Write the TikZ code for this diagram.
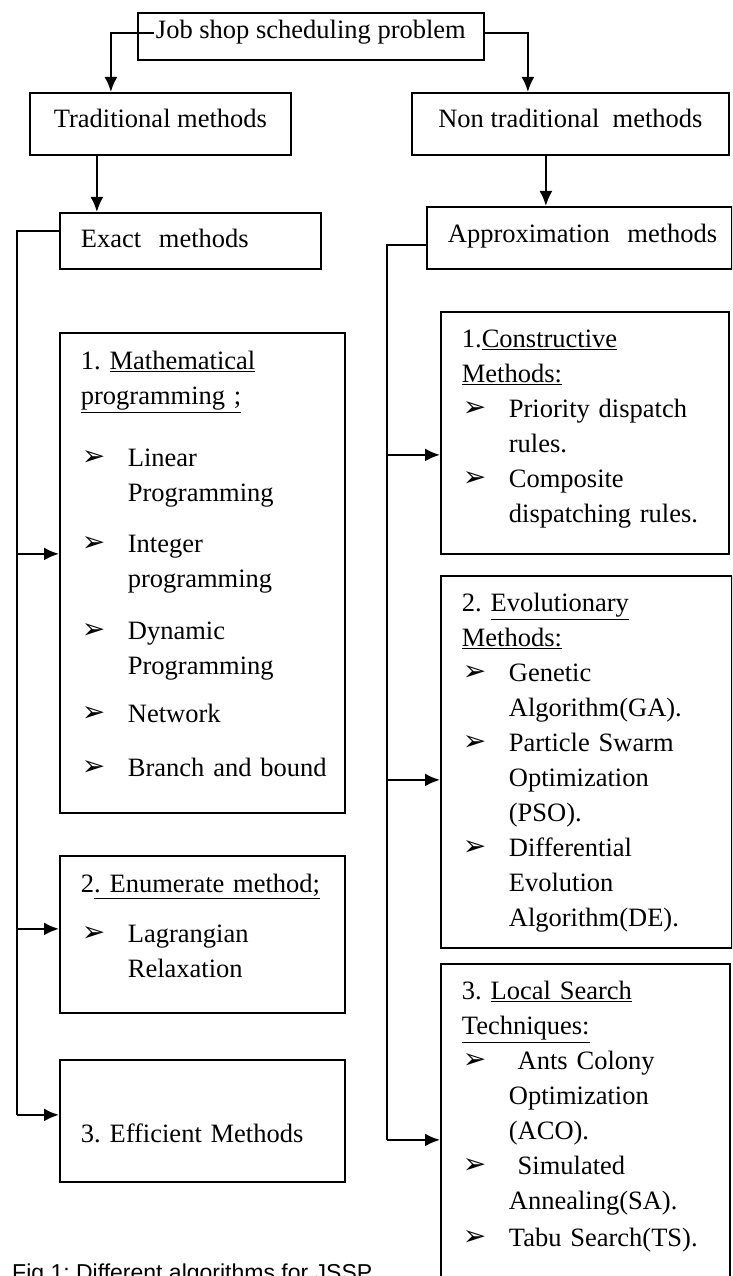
\documentclass[tikz,border=0pt]{standalone}
\usepackage{fontspec}
\setmainfont{Liberation Serif}
\newfontfamily\capfont{Liberation Sans}
\newfontfamily\dingfont{DejaVu Sans}
\usepackage{tikz}
\usetikzlibrary{shapes,arrows.meta}
\tikzstyle{headbox} = [rectangle, draw, line width=1.8pt, align=center, inner sep=0pt, anchor=north west]
\tikzstyle{block} = [rectangle, draw, line width=1.8pt, align=left, inner xsep=21pt, inner ysep=0pt, anchor=north west]
\tikzstyle{line} = [draw, line width=2.2pt, -{Latex[length=15pt,width=13pt]}]
\tikzstyle{bus} = [draw, line width=2.2pt]
\newcommand{\blt}{\makebox[47pt][l]{\hspace{1pt}\raisebox{1.5pt}{\dingfont\fontsize{28}{28}\selectfont ➢}}}
\newcommand{\ind}{\hspace*{47pt}}
\frenchspacing
\begin{document}
\begin{tikzpicture}[x=1pt, y=-1pt, every node/.style={font=\fontsize{26.5}{35}\selectfont}]
			\clip (0,0) rectangle (732,1276);
			\node [headbox, minimum width=346pt, text height=26pt, text depth=21pt] (job) at (137,12) {Job shop scheduling problem};
			\node [headbox, minimum width=261pt, text height=35pt, text depth=27pt] (trad) at (29,92) {Traditional methods};
			\node [headbox, minimum width=317pt, text height=35pt, text depth=27pt] (ntrad) at (411,92) {Non traditional~ methods};
			\node [block, text width=219pt, text height=35pt, text depth=21pt] (exact) at (59,212) {Exact~ methods};
			\node [block, text width=263pt, text height=36pt, text depth=26pt] (approx) at (426,206) {\mbox{Approximation~ methods}};
			% exact methods
			\node [block, text width=243pt, text height=37pt, text depth=443pt] (math) at (59,332) {1. \underline{Mathematical}\\
				\underline{programming ;}\\[27pt]
				\blt Linear\\ \ind Programming\\[16pt]
				\blt Integer\\ \ind programming\\[17pt]
				\blt Dynamic\\ \ind Programming\\[13pt]
				\blt Network\\[19pt]
				\blt \mbox{Branch and bound}};
			\node [block, text width=243pt, text height=37pt, text depth=120pt] (enum) at (59,855) {2\underline{. Enumerate method;}\\[15pt]
				\blt Lagrangian\\ \ind Relaxation};
			\node [block, text width=243pt, text height=83pt, text depth=39pt] (eff) at (59,1059) {3. Efficient Methods};
			% approximation methods
			\node [block, text width=246pt, text height=36pt, text depth=206pt] (cons) at (440,311) {1.\underline{Constructive}\\
				\underline{Methods:}\\
				\blt Priority dispatch\\ \ind rules.\\
				\blt Composite\\ \ind \mbox{dispatching rules.}};
			\node [block, text width=249pt, text height=36pt, text depth=336pt] (evol) at (440,575) {2. \underline{Evolutionary}\\
				\underline{Methods:}\\
				\blt Genetic\\ \ind Algorithm(GA).\\
				\blt Particle Swarm\\ \ind Optimization\\ \ind (PSO).\\
				\blt Differential\\ \ind Evolution\\ \ind Algorithm(DE).};
			\node [block, text width=247pt, text height=36pt, text depth=294pt] (local) at (440,963) {3. \underline{Local Search}\\
				\underline{Techniques:}\\
				\blt\ Ants Colony\\ \ind Optimization\\ \ind (ACO).\\
				\blt\ Simulated\\ \ind Annealing(SA).\\[2pt]
				\blt Tabu Search(TS).};
			\node [anchor=base west, inner sep=0pt, font=\capfont\fontsize{23}{28}\selectfont] (caption) at (12,1280) {Fig 1: Different algorithms for JSSP};
			\coordinate (lbus) at (17,0);
			\coordinate (rbus) at (387,0);
			\path [line] ([xshift=17pt,yshift=3.5pt]job.west) -| ([xshift=-49.5pt]trad.north);
			\path [line] ([yshift=3.5pt]job.east) -| ([xshift=-42.5pt]ntrad.north);
			\path [line] ([xshift=-63.5pt]trad.south) -- ([xshift=-63.5pt]trad.south |- exact.north);
			\path [line] ([xshift=-24.5pt]ntrad.south) -- ([xshift=-24.5pt]ntrad.south |- approx.north);
			\path [bus] ([yshift=10pt]exact.west) -| ([yshift=6pt]eff.west -| lbus);
			\path [line] ([yshift=19pt]math.west -| lbus) -- ([yshift=19pt]math.west);
			\path [line] ([yshift=5.5pt]enum.west -| lbus) -- ([yshift=5.5pt]enum.west);
			\path [line] ([yshift=6pt]eff.west -| lbus) -- ([yshift=6pt]eff.west);
			\path [bus] ([yshift=-7pt]approx.west) -| ([yshift=-11pt]local.west -| rbus);
			\path [line] ([yshift=-22pt]cons.west -| rbus) -- ([yshift=-22pt]cons.west);
			\path [line] ([yshift=-18pt]evol.west -| rbus) -- ([yshift=-18pt]evol.west);
			\path [line] ([yshift=-11pt]local.west -| rbus) -- ([yshift=-11pt]local.west);
\end{tikzpicture}
\end{document}
